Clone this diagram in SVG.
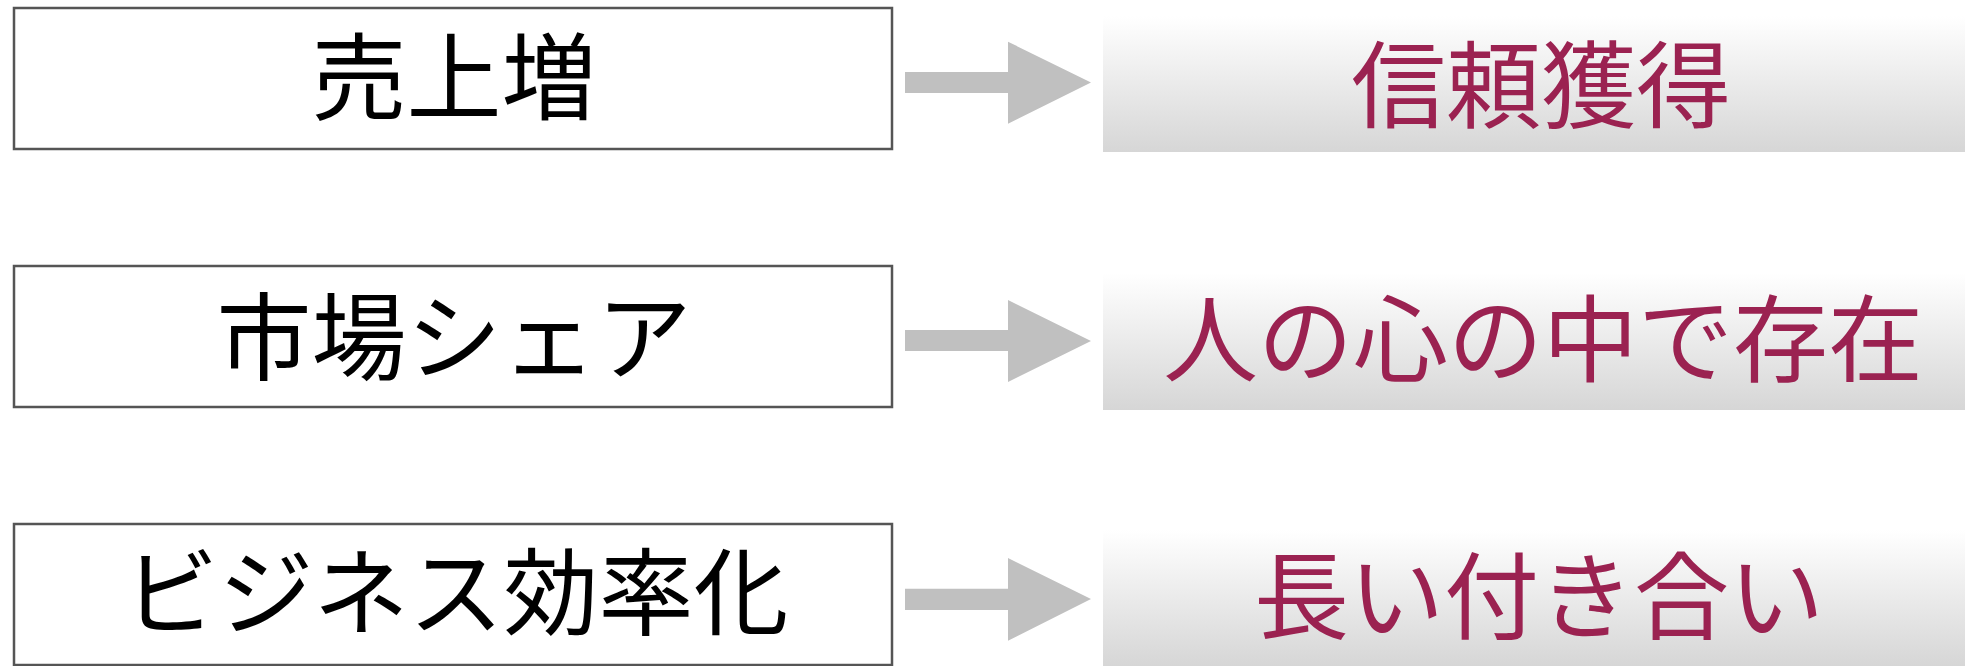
<svg xmlns="http://www.w3.org/2000/svg" width="1965" height="666" viewBox="0 0 1965 666">
  <defs>
    <linearGradient id="g" x1="0" y1="0" x2="0" y2="1">
      <stop offset="0" stop-color="#ffffff"/>
      <stop offset="1" stop-color="#d6d6d6"/>
    </linearGradient>
    <style>
      .src rect { fill: #ffffff; stroke: #555555; stroke-width: 2.5; }
      .dst rect { fill: url(#g); }
      .src text { fill: #000000; }
      .dst text { fill: #9b2251; }
      text { font-family: "Noto Sans CJK JP", "Noto Sans", sans-serif; font-size: 95px; text-anchor: middle; }
      .arrow { fill: #c0c0c0; }
    </style>
  </defs>
  <rect width="1965" height="666" fill="#ffffff"/>

  <g id="n1" class="src">
    <rect x="14" y="8" width="878" height="141"/>
    <text x="454" y="113">売上増</text>
  </g>
  <g id="n2" class="src">
    <rect x="14" y="266" width="878" height="141"/>
    <text x="454" y="373">市場シェア</text>
  </g>
  <g id="n3" class="src">
    <rect x="14" y="524" width="878" height="141"/>
    <text x="456" y="628">ビジネス効率化</text>
  </g>

  <g id="m1" class="dst">
    <rect x="1103" y="16" width="862" height="136"/>
    <text x="1541" y="121">信頼獲得</text>
  </g>
  <g id="m2" class="dst">
    <rect x="1103" y="273" width="862" height="137"/>
    <text x="1543" y="375">人の心の中で存在</text>
  </g>
  <g id="m3" class="dst">
    <rect x="1103" y="530" width="862" height="136"/>
    <text x="1539" y="632">長い付き合い</text>
  </g>

  <g id="connectors">
    <polygon class="arrow" points="905,72 1008,72 1008,41.7 1091,82.5 1008,123.7 1008,93 905,93"/>
    <polygon class="arrow" points="905,330 1008,330 1008,300 1091,341 1008,382 1008,351 905,351"/>
    <polygon class="arrow" points="905,588.7 1008,588.7 1008,558 1091,599 1008,640.7 1008,610 905,610"/>
  </g>
</svg>
